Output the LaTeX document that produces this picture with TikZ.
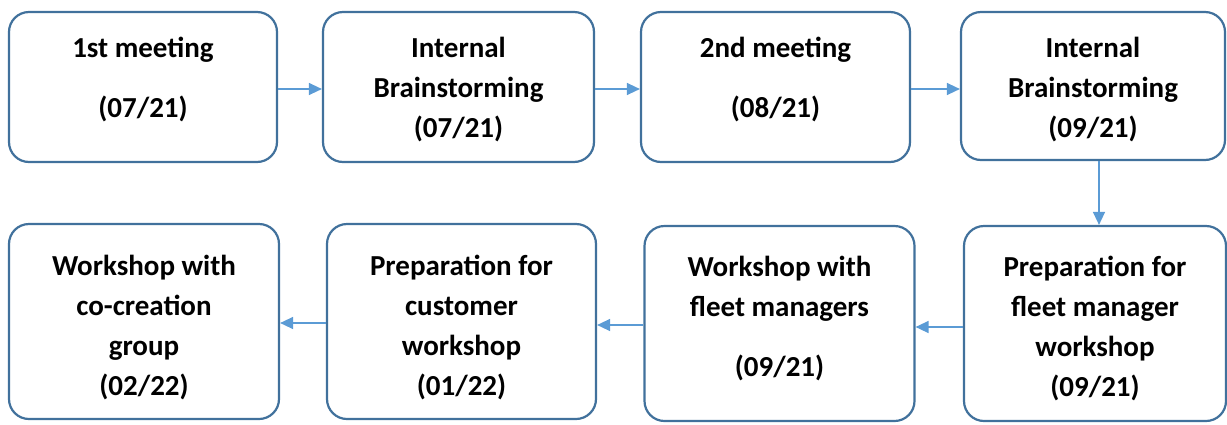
\documentclass[tikz,border=0pt]{standalone}
\usepackage{fontspec}
\setmainfont{Carlito}
\usetikzlibrary{arrows.meta}
\definecolor{boxblue}{HTML}{41719C}
\definecolor{arrblue}{HTML}{5B9BD5}
\tikzset{
  stepbox/.style={draw=boxblue, line width=2.2pt, rounded corners=20pt, fill=white, inner sep=0pt},
  lbl/.style={anchor=north, align=center, inner sep=0pt, font=\fontsize{29}{40}\selectfont\bfseries},
  conn/.style={draw=arrblue, line width=1.4pt, -{Triangle[length=13pt,width=12pt]}}
}
\begin{document}
\begin{tikzpicture}[x=1pt,y=-1pt]
\useasboundingbox (0,0) rectangle (1227,424);
% top row
\node[stepbox, minimum width=268pt, minimum height=150pt] (a1) at (143,87) {};
\node[stepbox, minimum width=271pt, minimum height=150pt] (a2) at (458.5,87) {};
\node[stepbox, minimum width=269pt, minimum height=150pt] (a3) at (775.5,87) {};
\node[stepbox, minimum width=264pt, minimum height=148pt] (a4) at (1093,86) {};
% bottom row
\node[stepbox, minimum width=270pt, minimum height=195pt] (b1) at (144,321.5) {};
\node[stepbox, minimum width=269pt, minimum height=195pt] (b2) at (461.5,321.5) {};
\node[stepbox, minimum width=270pt, minimum height=195pt] (b3) at (779.5,323.5) {};
\node[stepbox, minimum width=262pt, minimum height=195pt] (b4) at (1095,323.5) {};
% texts
\node[lbl] (t1) at (143,29) {\strut 1st meeting\\[20pt]\strut(07/21)};
\node[lbl] (t2) at (458.5,29) {\strut Internal\\\strut Brainstorming\\\strut(07/21)};
\node[lbl] (t3) at (775.5,29) {\strut 2nd meeting\\[20pt]\strut(08/21)};
\node[lbl] (t4) at (1093,29) {\strut Internal\\\strut Brainstorming\\\strut(09/21)};
\node[lbl] (t5) at (144,247) {\strut Workshop with\\\strut co-creation\\\strut group\\\strut(02/22)};
\node[lbl] (t6) at (461.5,247) {\strut Preparation for\\\strut customer\\\strut workshop\\\strut(01/22)};
\node[lbl] (t7) at (779.5,248) {\strut Workshop with\\\strut fleet managers\\[20pt]\strut(09/21)};
\node[lbl] (t8) at (1095,248) {\strut Preparation for\\\strut fleet manager\\\strut workshop\\\strut(09/21)};
% connectors
\draw[conn] (a1.east |- 0,89) -- (a2.west |- 0,89);
\draw[conn] (a2.east |- 0,89) -- (a3.west |- 0,89);
\draw[conn] (a3.east |- 0,89) -- (a4.west |- 0,89);
\draw[conn] (a4.south -| 1099,0) -- (b4.north -| 1099,0);
\draw[conn] (b4.west |- 0,327) -- (b3.east |- 0,327);
\draw[conn] (b3.west |- 0,325) -- (b2.east |- 0,325);
\draw[conn] (b2.west |- 0,323) -- (b1.east |- 0,323);
\end{tikzpicture}
\end{document}
